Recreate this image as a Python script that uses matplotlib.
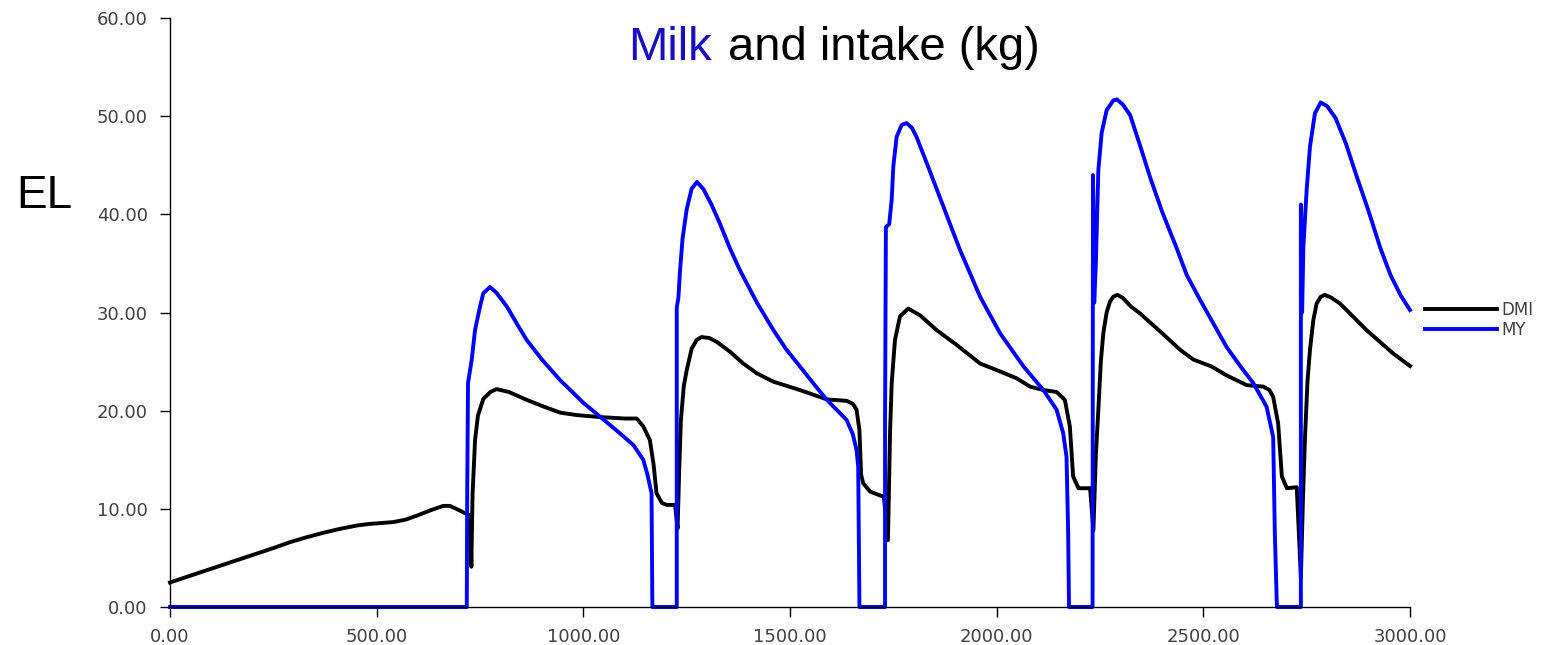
import matplotlib
matplotlib.use('Agg')
import matplotlib.pyplot as plt
from matplotlib.ticker import FormatStrFormatter

# Dry matter intake (DMI) and milk yield (MY) over five lactations
dmi_x = [0, 50, 100, 150, 200, 250, 290, 330, 370, 410, 452, 480, 540, 570, 600,
         630, 661, 677, 700, 714, 727, 729, 732, 738, 745, 758, 775, 790, 820, 863,
         905, 944, 984, 1040, 1100, 1129, 1145, 1161, 1170, 1177, 1190, 1202, 1222,
         1228, 1232, 1236, 1243, 1250, 1262, 1274, 1286, 1305, 1323, 1355, 1387, 1420,
         1460, 1524, 1589, 1637, 1652, 1661, 1668, 1672, 1677, 1694, 1722, 1727,
         1737, 1742, 1746, 1754, 1766, 1786, 1815, 1855, 1903, 1960, 2008, 2048,
         2081, 2113, 2145, 2165, 2177, 2185, 2198, 2226, 2234, 2240, 2246, 2252, 2258,
         2266, 2274, 2282, 2292, 2305, 2325, 2347, 2400, 2444, 2476, 2520, 2556, 2605,
         2645, 2660, 2669, 2681, 2690, 2702, 2726, 2736, 2741, 2746, 2752, 2758, 2766,
         2774, 2784, 2794, 2810, 2831, 2895, 2960, 3000]
dmi_y = [2.5, 3.2, 3.9, 4.6, 5.3, 6.0, 6.6, 7.1, 7.55, 7.95, 8.3, 8.45, 8.65, 8.9, 9.35,
         9.85, 10.3, 10.3, 9.85, 9.55, 9.3, 4.1, 11.5, 17.0, 19.5, 21.2, 21.9, 22.2, 21.9, 21.1,
         20.4, 19.8, 19.55, 19.35, 19.2, 19.2, 18.4, 17.0, 14.5, 11.6, 10.6, 10.4, 10.4,
         8.0, 14.0, 19.0, 22.5, 24.1, 26.3, 27.2, 27.5, 27.4, 27.0, 26.0, 24.8, 23.8,
         22.95, 22.1, 21.15, 21.0, 20.7, 20.1, 18.0, 13.5, 12.6, 11.75, 11.3, 11.3,
         6.8, 17.7, 22.8, 27.2, 29.6, 30.4, 29.7, 28.2, 26.7, 24.8, 24.0, 23.3,
         22.45, 22.1, 21.9, 21.1, 18.4, 13.3, 12.1, 12.1, 7.8, 15.5, 20.1, 25.0, 27.9,
         30.0, 31.1, 31.6, 31.8, 31.5, 30.6, 29.9, 27.9, 26.2, 25.2, 24.5, 23.6, 22.6,
         22.45, 22.1, 21.4, 18.7, 13.3, 12.1, 12.2, 3.0, 11.0, 17.3, 23.0, 26.2, 29.2,
         30.9, 31.6, 31.8, 31.5, 30.9, 28.2, 25.8, 24.55]

my_x = [0, 718, 719, 721, 730, 738, 750, 758, 774, 790, 815, 840, 863, 900, 944, 960,
        1000, 1040, 1080, 1121, 1145, 1155, 1165, 1167, 1226, 1226, 1230, 1234, 1240,
        1250, 1262, 1275, 1290, 1310, 1331, 1355, 1379, 1420, 1460, 1490, 1524, 1560,
        1589, 1615, 1637, 1652, 1661, 1665, 1668, 1730, 1730, 1732, 1740, 1746, 1750,
        1758, 1770, 1782, 1795, 1806, 1831, 1871, 1911, 1960, 2008, 2065, 2113, 2145, 2161,
        2169, 2173, 2175, 2232, 2233, 2236, 2240, 2244, 2246, 2254, 2266, 2282, 2291,
        2305, 2323, 2347, 2371, 2400, 2435, 2460, 2492, 2556, 2590, 2621, 2653, 2669,
        2673, 2678, 2736, 2736, 2739, 2742, 2750, 2758, 2770, 2784, 2800, 2820, 2845,
        2870, 2900, 2928, 2953, 2978, 3000]
my_y = [0, 0, 11.2, 22.8, 25.2, 28.2, 30.6, 31.95, 32.6, 32.0, 30.6, 28.8, 27.2, 25.2, 23.1, 22.45,
        20.8, 19.4, 18.0, 16.5, 15.0, 13.5, 11.6, 0, 0, 30.5, 31.5, 34.3, 37.5,
        40.5, 42.6, 43.3, 42.6, 41.0, 39.0, 36.5, 34.3, 31.0, 28.2, 26.3, 24.5, 22.6,
        21.1, 20.0, 19.05, 17.6, 16.0, 14.3, 0, 0, 19.4, 38.7, 39.0, 41.5, 44.9,
        47.9, 49.1, 49.3, 48.8, 47.9, 45.2, 40.8, 36.4, 31.6, 27.9, 24.5, 22.1, 20.1, 17.7,
        15.3, 7.5, 0, 0, 44.0, 31.0, 35.0, 41.5, 44.5, 48.3, 50.6, 51.6, 51.7,
        51.2, 50.1, 47.0, 43.8, 40.3, 36.6, 33.8, 31.3, 26.5, 24.5, 22.8, 20.4, 17.3,
        7.5, 0, 0, 41.0, 30.0, 36.7, 42.5, 46.9, 50.3, 51.4, 51.0, 49.8, 47.2,
        44.0, 40.3, 36.6, 33.8, 31.7, 30.25]

x_ticks = [0, 500, 1000, 1500, 2000, 2500, 3000]
y_ticks = [0, 10, 20, 30, 40, 50, 60]

fig = plt.figure(figsize=(15.56, 6.45), dpi=100)
ax = fig.add_axes([170 / 1556, 38 / 645, 1240 / 1556, 589 / 645])

ax.plot(dmi_x, dmi_y, color='black', lw=2.8, label='DMI', clip_on=False)
ax.plot(my_x, my_y, color='#0000ff', lw=2.8, label='MY', clip_on=False)

ax.set_xlim(0, 3000)
ax.set_ylim(0, 60)
ax.set_xticks(x_ticks)
ax.set_yticks(y_ticks)
ax.xaxis.set_major_formatter(FormatStrFormatter('%.2f'))
ax.yaxis.set_major_formatter(FormatStrFormatter('%.2f'))

for side in ['top', 'right']:
    ax.spines[side].set_visible(False)
for side in ['left', 'bottom']:
    ax.spines[side].set_linewidth(1.0)

ax.tick_params(axis='both', direction='out', length=7, width=1.0,
               labelsize=13, labelcolor='#404040')
ax.tick_params(axis='y', pad=9)
ax.tick_params(axis='x', pad=8)

# title in two colours
fig.text(712 / 1556, 1 - 60 / 645, 'Milk', color='#1a0dbf', fontsize=34,
         family='Liberation Sans', ha='right', va='baseline')
fig.text(728 / 1556, 1 - 60 / 645, 'and intake (kg)', color='black', fontsize=34,
         family='Liberation Sans', ha='left', va='baseline')

fig.text(16 / 1556, 1 - 196 / 645, 'EL', color='black', fontsize=33,
         family='Liberation Sans', ha='left', va='center')

ax.legend(loc='center left', bbox_to_anchor=(1.012, 0.487), frameon=False,
          fontsize=12, handlelength=4.3, handletextpad=0.3, labelspacing=0.1,
          borderpad=0, borderaxespad=0, labelcolor='#404040')

fig.savefig('out.png', dpi=100)
